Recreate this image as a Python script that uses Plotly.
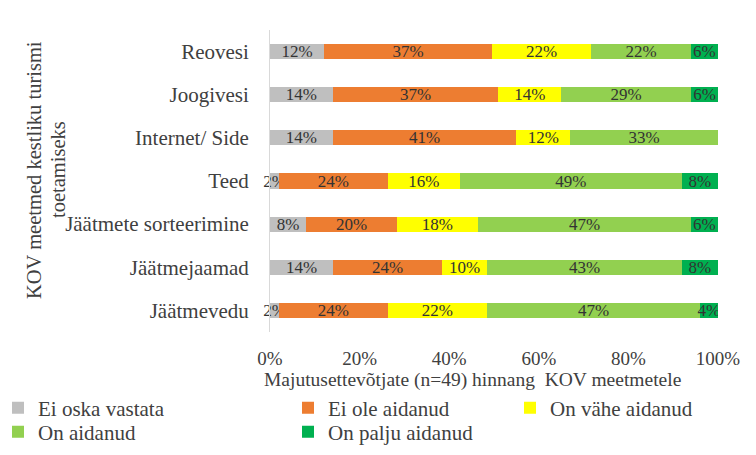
import plotly.graph_objects as go

categories = ["Reovesi", "Joogivesi", "Internet/ Side", "Teed",
              "Jäätmete sorteerimine", "Jäätmejaamad", "Jäätmevedu"]
series_names = ["Ei oska vastata", "Ei ole aidanud", "On vähe aidanud",
                "On aidanud", "On palju aidanud"]
ei_oska = [12, 14, 14, 2, 8, 14, 2]
ei_ole = [37, 37, 41, 24, 20, 24, 24]
vahe = [22, 14, 12, 16, 18, 10, 22]
aidanud = [22, 29, 33, 49, 47, 43, 47]
palju = [6, 6, 0, 8, 6, 8, 4]
x_ticks = [0, 20, 40, 60, 80, 100]
x_title = "Majutusettevõtjate (n=49) hinnang  KOV meetmetele"
y_title_1 = "KOV meetmed kestliku turismi"
y_title_2 = "toetamiseks"

colors = ["#BFBFBF", "#ED7D31", "#FFFF00", "#92D050", "#00B050"]
legend_ids = ["legend", "legend2", "legend3", "legend4", "legend5"]
FONT = "Liberation Serif"
TXT = "#404040"

W, H = 756, 455
OFF = 8  # page body offset
ML, MR, MT, MB = 262, 46, 22, 131
PW = W - ML - MR
PH = H - MT - MB


def px_x(p):
    return (p - OFF - ML) / PW


def px_y(p):
    return (H - MB - (p - OFF)) / PH


fig = go.Figure()
for i, (name, vals, col, lg) in enumerate(zip(series_names,
                                              [ei_oska, ei_ole, vahe, aidanud, palju],
                                              colors, legend_ids)):
    fig.add_trace(go.Bar(
        y=categories, x=vals, name=name, orientation="h",
        marker=dict(color=col, line=dict(width=0)),
        text=[f"{v}%" if v > 0 else "" for v in vals],
        textposition="inside", insidetextanchor="middle", textangle=0,
        textfont=dict(family=FONT, size=17, color="#333333"),
        cliponaxis=(i != 0),
        legend=lg, hoverinfo="skip",
    ))

leg_common = dict(xanchor="left", yanchor="middle", orientation="v", itemwidth=30,
                  tracegroupgap=0, traceorder="normal",
                  font=dict(family=FONT, size=21, color=TXT),
                  bgcolor="rgba(0,0,0,0)")
# legend marker centre (screen px) and row centre
leg_pos = [(25, 408), (315, 408), (537, 408), (25, 432), (315, 432)]
legends = {}
for lid, (mx, my) in zip(legend_ids, leg_pos):
    legends[lid] = dict(x=px_x(mx - 27), y=px_y(my), **leg_common)

fig.update_layout(
    width=W, height=H,
    margin=dict(l=ML, r=MR, t=MT, b=MB, autoexpand=False),
    barmode="stack", barnorm="percent", bargap=0.65,
    plot_bgcolor="white", paper_bgcolor="white",
    font=dict(family=FONT, size=19, color=TXT),
    uniformtext=dict(minsize=17, mode="show"),
    xaxis=dict(range=[0, 100.001], tickvals=x_ticks,
               ticktext=[f"{t}%" for t in x_ticks],
               showgrid=False, zeroline=False, showline=False,
               ticks="outside", ticklen=9, tickcolor="rgba(0,0,0,0)",
               tickfont=dict(family=FONT, size=19, color=TXT)),
    yaxis=dict(categoryorder="array", categoryarray=categories,
               autorange="reversed", showgrid=False, zeroline=False,
               showline=True, linecolor="#D9D9D9", linewidth=1,
               ticks="outside", ticklen=16, tickcolor="rgba(0,0,0,0)",
               tickfont=dict(family=FONT, size=21, color=TXT)),
    showlegend=True,
    **legends,
    annotations=[
        dict(text=x_title, x=px_x(472), y=px_y(380), xref="paper", yref="paper",
             showarrow=False, xanchor="center", yanchor="middle",
             font=dict(family=FONT, size=19.5, color=TXT)),
        dict(text=y_title_1, x=px_x(34), y=px_y(170), xref="paper", yref="paper",
             showarrow=False, textangle=-90, xanchor="center", yanchor="middle",
             font=dict(family=FONT, size=20.5, color=TXT)),
        dict(text=y_title_2, x=px_x(58), y=px_y(170), xref="paper", yref="paper",
             showarrow=False, textangle=-90, xanchor="center", yanchor="middle",
             font=dict(family=FONT, size=20.5, color=TXT)),
    ],
)

fig.write_html("out.html")
